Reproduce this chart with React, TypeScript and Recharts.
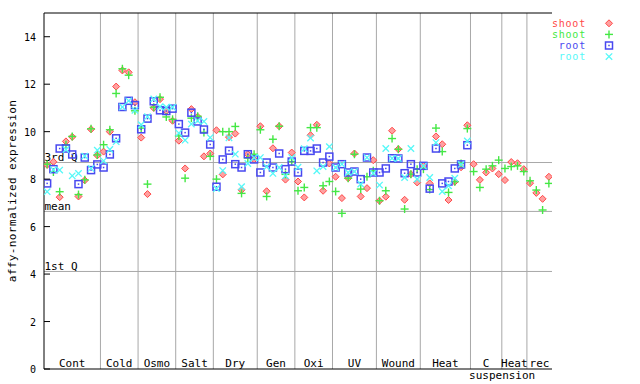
import React from 'react';
import { ScatterChart, Scatter, XAxis, YAxis, ReferenceLine, Legend } from 'recharts';

const FONT = '"DejaVu Sans Mono", monospace';

// sample groups along the x axis
const groupNames = ['Cont', 'Cold', 'Osmo', 'Salt', 'Dry', 'Gen', 'Oxi', 'UV', 'Wound', 'Heat', 'C', 'Heat', 'rec'];
const groupSizes = [9, 6, 6, 6, 7, 6, 6, 7, 7, 8, 5, 4, 4];
const yTicks = [0, 2, 4, 6, 8, 10, 12, 14];

const statLabels = ['3rd Q', 'mean', '1st Q'];
const statValues = [8.7, 6.64, 4.11];

const seriesNames = ['shoot', 'shoot', 'root', 'root'];
const seriesColors = ['#ff4848', '#44e844', '#4848f0', '#55f8f8'];

// expression values per sample
const shootRed = [
  8.6, 8.73, 7.24, 9.59, 9.78, 7.27, 7.95, 10.1, 9.0,
  9.16, 10.0, 11.9, 12.58, 12.5, 11.24,
  9.75, 7.37, 11.0, 11.37, 10.87, 10.46,
  9.62, 8.45, 10.95, 10.63, 8.96, 9.08,
  10.06, 8.2, 9.77, 9.92, 7.55, 9.05, 8.83,
  10.23, 7.49, 9.3, 10.23, 7.98, 9.12,
  7.9, 7.23, 9.85, 10.29, 7.51, 8.66,
  8.1, 7.2, 8.04, 9.08, 7.27, 7.62, 8.8,
  7.09, 7.26, 10.04, 9.26, 7.13, 8.21, 7.86,
  8.56, 7.82, 9.8, 9.47, 7.12, 7.89, 8.5, 10.27,
  8.63, 7.97, 8.28, 8.45, 8.21,
  7.96, 8.72, 8.67, 8.42,
  7.83, 7.42, 7.17, 8.1,
];
const shootGreen = [
  8.63, 8.3, 7.47, 9.45, 9.8, 7.35, 7.97, 10.12, 9.02,
  9.45, 10.08, 11.61, 12.65, 12.38, 10.88,
  10.15, 7.79, 11.03, 11.45, 10.62, 10.52,
  9.82, 8.04, 10.57, 10.65, 9.97, 8.96,
  8.0, 10.0, 10.0, 10.22, 7.4, 8.89, 9.05,
  10.08, 7.27, 9.68, 10.23, 8.2, 8.74,
  7.51, 7.65, 10.17, 10.17, 7.72, 7.9,
  7.48, 6.56, 8.04, 9.05, 7.58, 8.1, 8.35,
  7.09, 7.51, 9.71, 9.26, 6.74, 8.21, 8.42,
  8.42, 7.56, 10.15, 9.16, 7.44, 7.89, 8.66, 10.13,
  8.32, 7.65, 8.42, 8.56, 8.8,
  8.45, 8.53, 8.56, 8.32,
  7.93, 7.54, 6.7, 7.82,
];
const rootBlue = [
  7.82, 8.42, 9.29, 9.29, 9.04, 7.79, 8.91, 8.38, 8.62,
  8.49, 9.04, 9.72, 11.04, 11.3, 11.12,
  10.1, 10.55, 11.28, 10.9, 10.87, 10.97,
  10.32, 9.96, 10.8, 10.43, 10.09, 9.46,
  7.68, 8.83, 9.2, 8.63, 8.49, 9.05, 8.83,
  8.28, 8.7, 8.49, 9.08, 8.42, 8.74,
  8.28, 9.19, 9.19, 9.29, 8.7, 8.95,
  8.49, 8.63, 8.28, 8.32, 8.0, 8.91, 8.28,
  8.28, 8.45, 8.88, 8.87, 8.25, 8.63, 8.28,
  8.56, 7.6, 9.29, 7.82, 7.9, 8.45, 8.62, 9.43,
];
const rootCyan = [
  7.47, 8.4, 8.38, 9.25, 8.14, 8.24, 8.97, 8.45, 9.22,
  8.77, 9.25, 9.58, 11.04, 11.3, 10.9,
  10.29, 10.63, 11.38, 11.05, 11.03, 11.03,
  9.94, 9.64, 10.32, 10.46, 10.43, 9.75,
  7.6, 8.36, 9.74, 9.05, 7.68, 8.66, 8.9,
  8.91, 8.52, 8.24, 8.49, 8.14, 8.91,
  8.5, 9.28, 9.73, 8.35, 8.53, 9.37,
  8.49, 8.63, 8.28, 8.32, 7.79, 8.91, 8.25,
  7.75, 9.29, 8.88, 8.87, 8.07, 9.29, 8.0,
  8.55, 8.07, 9.54, 7.48, 7.72, 8.04, 8.62, 9.61,
];

const toPoints = (vals: number[]) => vals.map((y, x) => ({ x, y }));

const sampleCount = groupSizes.reduce((a, b) => a + b, 0);
const groupStarts = groupSizes.map((_, i) => groupSizes.slice(0, i).reduce((a, b) => a + b, 0));
const groupCenters = groupStarts.map((s, i) => s + groupSizes[i] / 2 - 0.5);
const groupBounds = groupStarts.slice(1).map((s) => s - 0.5);

const Diamond = ({ cx, cy, fill }: any) => (
  <polygon
    points={`${cx},${cy - 3.5} ${cx + 3.5},${cy} ${cx},${cy + 3.5} ${cx - 3.5},${cy}`}
    fill="#ffa0a0"
    stroke={fill}
    strokeWidth={1}
  />
);

const Plus = ({ cx, cy, fill }: any) => (
  <g stroke={fill} strokeWidth={1.4}>
    <line x1={cx - 4} x2={cx + 4} y1={cy} y2={cy} />
    <line x1={cx} x2={cx} y1={cy - 4} y2={cy + 4} />
  </g>
);

const Square = ({ cx, cy, fill }: any) => (
  <g>
    <rect x={cx - 3.5} y={cy - 3.5} width={7} height={7} fill="none" stroke={fill} strokeWidth={1.5} />
    <rect x={cx - 0.75} y={cy - 0.75} width={1.5} height={1.5} fill={fill} />
  </g>
);

const Cross = ({ cx, cy, fill }: any) => (
  <g stroke={fill} strokeWidth={1.3}>
    <line x1={cx - 3.2} x2={cx + 3.2} y1={cy - 3.2} y2={cy + 3.2} />
    <line x1={cx - 3.2} x2={cx + 3.2} y1={cy + 3.2} y2={cy - 3.2} />
  </g>
);

const markers = [Diamond, Plus, Square, Cross];

const LeftTick = ({ x, y, payload }: any) => (
  <g>
    <line x1={x} x2={x + 6} y1={y} y2={y} stroke="#000" />
    <text x={x - 8} y={y + 4} textAnchor="end" fontFamily={FONT} fontSize={10} fill="#000">
      {payload.value}
    </text>
  </g>
);

const RightTick = ({ x, y }: any) => <line x1={x} x2={x - 6} y1={y} y2={y} stroke="#000" />;

const GroupTick = ({ x, y, index }: any) => (
  <g fontFamily={FONT} fontSize={11} fill="#000">
    <text x={x} y={y - 2} textAnchor="middle">
      {groupNames[index]}
    </text>
    {groupNames[index] === 'C' && (
      <text x={x + 16} y={y + 10} textAnchor="middle">
        suspension
      </text>
    )}
  </g>
);

const StatLabel = ({ viewBox, text }: any) => (
  <text x={viewBox.x + 0.5} y={viewBox.y - 1.5} fontFamily={FONT} fontSize={11} fill="#000">
    {text}
  </text>
);

const YTitle = () => (
  <text
    x={15.5}
    y={191}
    transform="rotate(-90, 15.5, 191)"
    textAnchor="middle"
    fontFamily={FONT}
    fontSize={11}
    letterSpacing={0.4}
    fill="#000"
  >
    affy-normalized expression
  </text>
);

const LegendBox = () => (
  <svg width={92} height={50} style={{ display: 'block' }}>
    {seriesNames.map((name, i) => {
      const M = markers[i];
      const cy = 8.3 + i * 11.1;
      return (
        <g key={i}>
          <text
            x={38}
            y={cy + 3.5}
            textAnchor="end"
            fontFamily={FONT}
            fontSize={10}
            letterSpacing={0.8}
            fill={seriesColors[i]}
          >
            {name}
          </text>
          <M cx={61} cy={cy} fill={seriesColors[i]} />
        </g>
      );
    })}
  </svg>
);

export default function App() {
  const series = [shootRed, shootGreen, rootBlue, rootCyan];
  return (
    <div style={{ position: 'absolute', left: 0, top: 0, background: '#fff' }}>
      <ScatterChart width={640} height={384} margin={{ top: 13, right: 88, bottom: 0, left: 0 }}>
        {groupBounds.map((b) => (
          <ReferenceLine key={b} x={b} stroke="#a8a8a8" />
        ))}
        {statValues.map((v, i) => (
          <ReferenceLine key={statLabels[i]} y={v} stroke="#a8a8a8" label={<StatLabel text={statLabels[i]} />} />
        ))}
        <ReferenceLine y={15} stroke="#000" />
        <XAxis
          type="number"
          dataKey="x"
          domain={[-0.5, sampleCount - 0.5]}
          ticks={groupCenters}
          interval={0}
          tickLine={false}
          tickSize={0}
          tickMargin={0}
          tick={<GroupTick />}
          axisLine={{ stroke: '#000' }}
          height={15}
          allowDataOverflow
        />
        <YAxis
          type="number"
          dataKey="y"
          domain={[0, 15]}
          ticks={yTicks}
          interval={0}
          tickLine={false}
          tickSize={0}
          tickMargin={0}
          tick={<LeftTick />}
          axisLine={{ stroke: '#000' }}
          width={44}
          allowDataOverflow
          label={<YTitle />}
        />
        <YAxis
          yAxisId="right"
          orientation="right"
          type="number"
          domain={[0, 15]}
          ticks={yTicks}
          interval={0}
          tickLine={false}
          tickSize={0}
          tickMargin={0}
          tick={<RightTick />}
          axisLine={{ stroke: '#000' }}
          width={0}
          allowDataOverflow
        />
        <Legend
          layout="vertical"
          align="center"
          verticalAlign="middle"
          wrapperStyle={{ left: 548, top: 15, width: 92, height: 50 }}
          content={<LegendBox />}
        />
        {series.map((vals, i) => {
          const M = markers[i];
          return (
            <Scatter
              key={i}
              name={seriesNames[i]}
              data={toPoints(vals)}
              fill={seriesColors[i]}
              shape={<M />}
              isAnimationActive={false}
            />
          );
        })}
      </ScatterChart>
    </div>
  );
}
